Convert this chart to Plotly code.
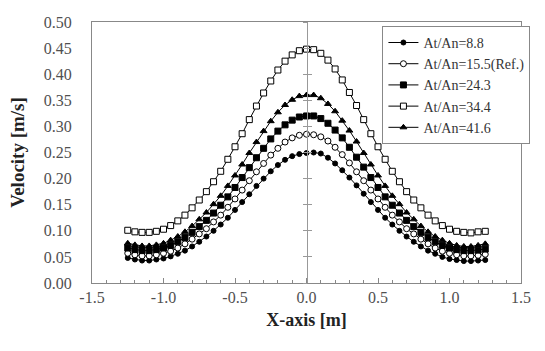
import plotly.graph_objects as go

x_pos = [-1.25, -1.2, -1.15, -1.1, -1.05, -1.0, -0.95, -0.9, -0.85, -0.8, -0.75, -0.7, -0.65,
         -0.6, -0.55, -0.5, -0.45, -0.4, -0.35, -0.3, -0.25, -0.2, -0.15, -0.1, -0.05, 0.0,
         0.05, 0.1, 0.15, 0.2, 0.25, 0.3, 0.35, 0.4, 0.45, 0.5, 0.55, 0.6, 0.65, 0.7, 0.75,
         0.8, 0.85, 0.9, 0.95, 1.0, 1.05, 1.1, 1.15, 1.2, 1.25]

v_88 = [0.048, 0.045, 0.043, 0.043, 0.045, 0.047, 0.051, 0.056, 0.062, 0.070, 0.079, 0.089, 0.100,
        0.112, 0.125, 0.140, 0.155, 0.170, 0.186, 0.200, 0.214, 0.226, 0.236, 0.243, 0.247, 0.249,
        0.250, 0.248, 0.240, 0.229, 0.216, 0.202, 0.187, 0.171, 0.155, 0.140, 0.125, 0.112, 0.100,
        0.089, 0.079, 0.070, 0.062, 0.056, 0.050, 0.046, 0.044, 0.042, 0.042, 0.043, 0.044]

v_155 = [0.057, 0.054, 0.052, 0.052, 0.054, 0.057, 0.061, 0.067, 0.075, 0.084, 0.094, 0.104, 0.117,
         0.130, 0.145, 0.161, 0.178, 0.196, 0.213, 0.229, 0.245, 0.258, 0.270, 0.278, 0.283, 0.285,
         0.284, 0.280, 0.272, 0.260, 0.246, 0.230, 0.213, 0.196, 0.178, 0.161, 0.145, 0.130, 0.117,
         0.104, 0.094, 0.084, 0.075, 0.067, 0.061, 0.057, 0.054, 0.052, 0.052, 0.053, 0.055]

v_243 = [0.067, 0.064, 0.062, 0.062, 0.064, 0.067, 0.072, 0.079, 0.087, 0.097, 0.108, 0.120, 0.134,
         0.149, 0.165, 0.183, 0.202, 0.221, 0.240, 0.258, 0.276, 0.291, 0.303, 0.312, 0.318, 0.320,
         0.320, 0.315, 0.306, 0.293, 0.278, 0.260, 0.241, 0.222, 0.202, 0.183, 0.165, 0.149, 0.134,
         0.120, 0.108, 0.097, 0.087, 0.079, 0.072, 0.067, 0.064, 0.062, 0.062, 0.063, 0.065]

v_344 = [0.101, 0.098, 0.097, 0.097, 0.099, 0.103, 0.110, 0.119, 0.130, 0.144, 0.159, 0.175, 0.194,
         0.214, 0.237, 0.261, 0.286, 0.313, 0.339, 0.364, 0.387, 0.408, 0.425, 0.437, 0.445, 0.448,
         0.447, 0.440, 0.427, 0.410, 0.389, 0.365, 0.340, 0.313, 0.286, 0.261, 0.237, 0.214, 0.194,
         0.175, 0.159, 0.144, 0.130, 0.119, 0.110, 0.103, 0.099, 0.097, 0.096, 0.098, 0.099]

v_416 = [0.076, 0.073, 0.071, 0.071, 0.073, 0.076, 0.082, 0.089, 0.098, 0.109, 0.122, 0.135, 0.151,
         0.167, 0.186, 0.206, 0.227, 0.249, 0.270, 0.291, 0.310, 0.327, 0.341, 0.351, 0.358, 0.360,
         0.360, 0.354, 0.343, 0.329, 0.311, 0.292, 0.271, 0.249, 0.227, 0.206, 0.186, 0.167, 0.151,
         0.135, 0.122, 0.109, 0.098, 0.089, 0.082, 0.076, 0.072, 0.070, 0.070, 0.072, 0.075]

x_tick_vals = [-1.5, -1.0, -0.5, 0.0, 0.5, 1.0, 1.5]
x_tick_text = ["-1.5", "-1.0", "-0.5", "0.0", "0.5", "1.0", "1.5"]

series = [
    ("At/An=8.8", v_88, "circle", "black", 5),
    ("At/An=15.5(Ref.)", v_155, "circle", "white", 6),
    ("At/An=24.3", v_243, "square", "black", 6),
    ("At/An=34.4", v_344, "square", "white", 6),
    ("At/An=41.6", v_416, "triangle-up", "black", 6),
]

FONT = "Liberation Serif"

fig = go.Figure()
for name, vals, sym, fill, size in series:
    fig.add_trace(go.Scatter(
        x=x_pos, y=vals, name=name, mode="lines+markers",
        line=dict(color="black", width=1),
        marker=dict(symbol=sym, size=size, color=fill,
                    line=dict(color="black", width=1)),
    ))

# vertical axis line at x = 0 with crossing ticks
for ax in ("y2", "y3"):
    fig.add_trace(go.Scatter(x=[None], y=[None], yaxis=ax, showlegend=False))

fig.update_layout(
    width=545, height=351,
    margin=dict(l=92, r=24, t=22, b=68),
    paper_bgcolor="white", plot_bgcolor="white",
    font=dict(family=FONT, size=16, color="#505050"),
    showlegend=True,
    legend=dict(x=0.677, y=0.985, xanchor="left", yanchor="top",
                bgcolor="white", bordercolor="#888888", borderwidth=1,
                font=dict(family=FONT, size=14, color="#333333"),
                itemwidth=30, tracegroupgap=0),
    xaxis=dict(range=[-1.5, 1.5], tickvals=x_tick_vals, ticktext=x_tick_text,
               showgrid=False, zeroline=False,
               showline=True, linecolor="#888888", linewidth=1, mirror=True,
               ticks="inside", ticklen=5, tickcolor="#888888",
               minor=dict(dtick=0.1, tick0=-1.5, ticks="inside", ticklen=3, tickcolor="#888888"),
               title=dict(text="<b>X-axis [m]</b>", font=dict(family=FONT, size=18, color="#222222"),
                          standoff=8)),
    yaxis=dict(range=[0, 0.5], dtick=0.05, tickformat=".2f",
               showgrid=False, zeroline=False,
               showline=True, linecolor="#888888", linewidth=1, mirror=True,
               ticks="", ticklabelstandoff=16,
               title=dict(text="<b>Velocity [m/s]</b>", font=dict(family=FONT, size=19, color="#222222"),
                          standoff=14)),
    yaxis2=dict(range=[0, 0.5], dtick=0.05, overlaying="y", anchor="free", position=0.5,
                showline=True, linecolor="#999999", linewidth=1, showticklabels=False,
                ticks="outside", ticklen=4, tickcolor="#999999", showgrid=False, zeroline=False),
    yaxis3=dict(range=[0, 0.5], dtick=0.05, overlaying="y", anchor="free", position=0.5,
                showline=False, showticklabels=False,
                ticks="inside", ticklen=4, tickcolor="#999999", showgrid=False, zeroline=False),
)

fig.write_html("out.html")
